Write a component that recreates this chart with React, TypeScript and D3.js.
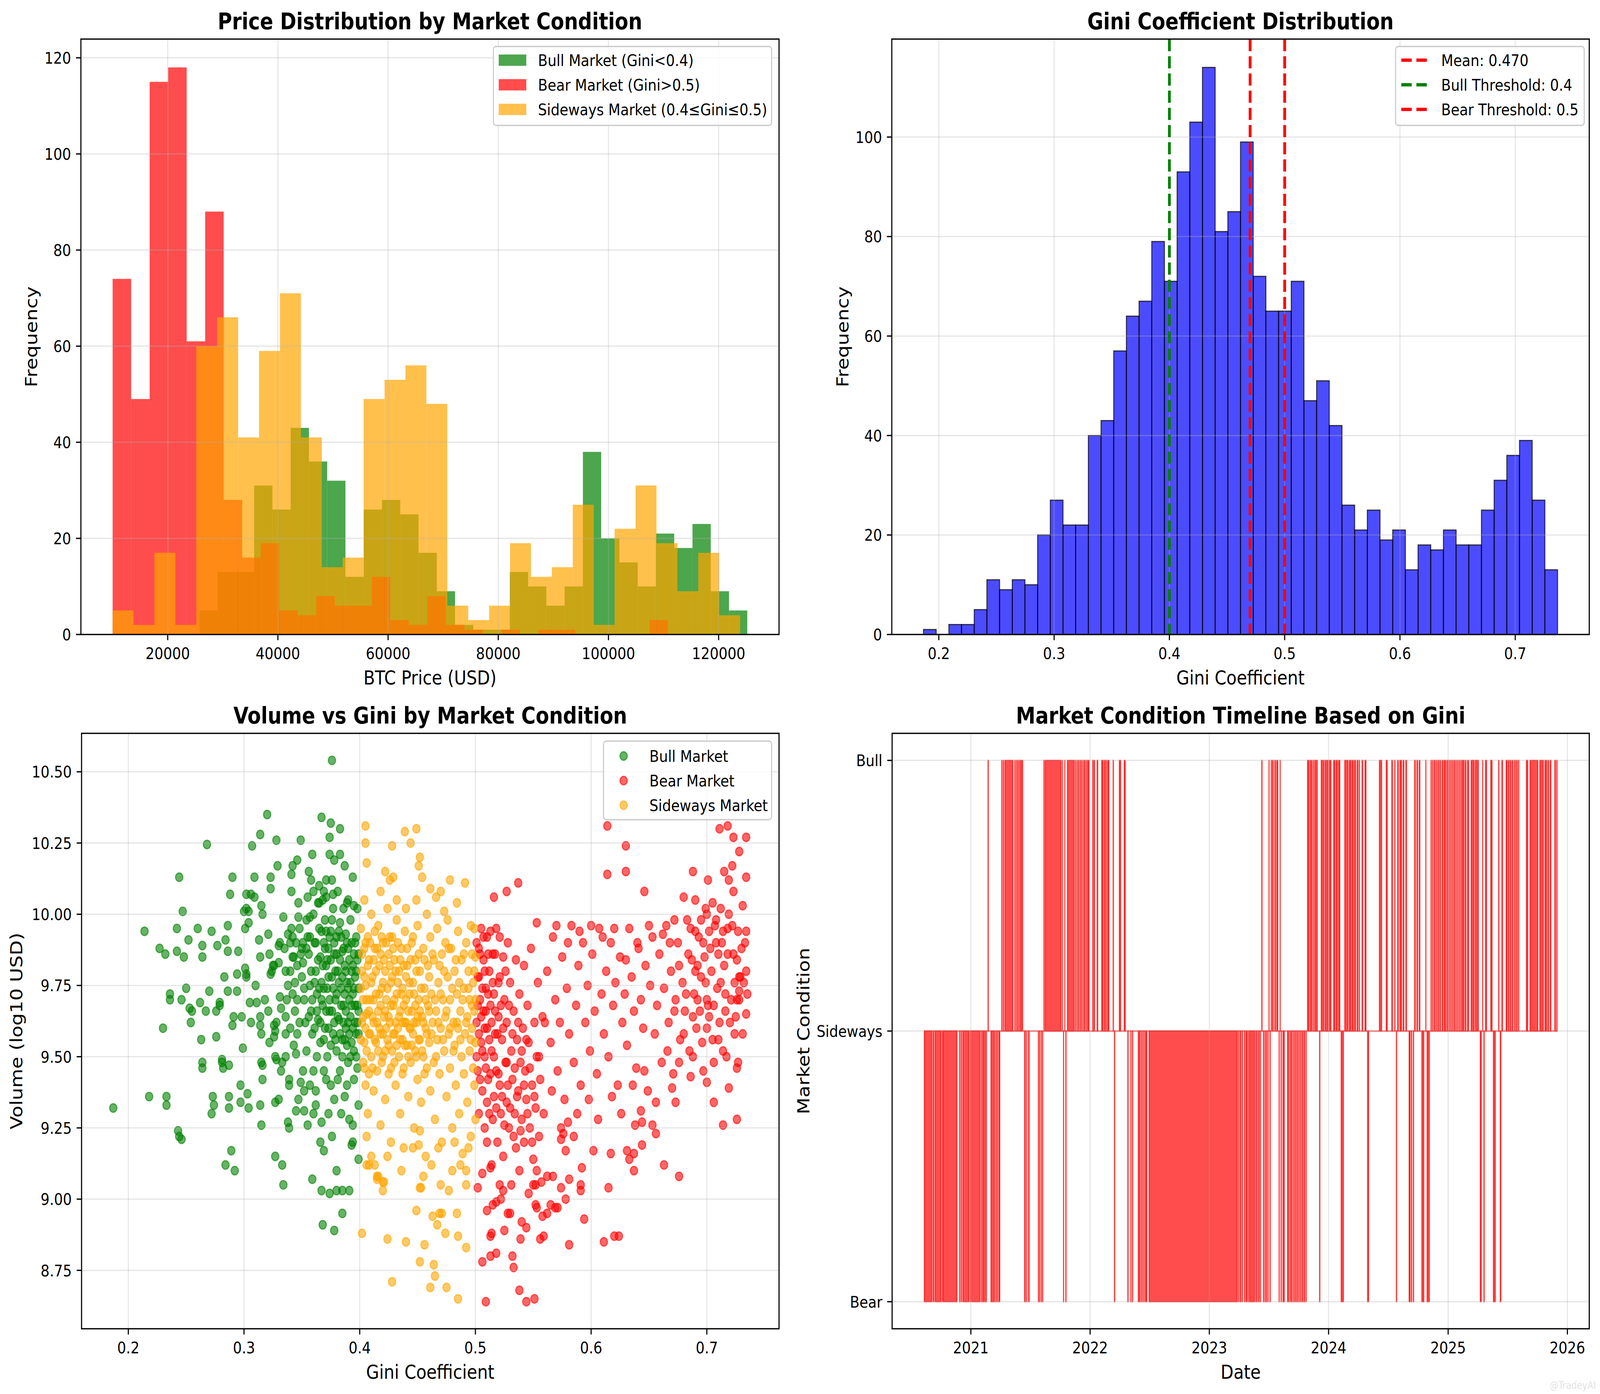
import React from "react";
import * as d3 from "d3";

// ---------- top-left: BTC price histograms, 30 bins per market type ----------
const bullPriceRange: [number, number] = [25740, 125200];
const bullPriceCounts = [5, 13, 13, 31, 26, 43, 36, 32, 12, 26, 28, 25, 17, 9, 2, 1, 1, 13, 10, 6, 10, 38, 20, 15, 10, 21, 18, 23, 9, 5];
const bearPriceRange: [number, number] = [10000, 110800];
const bearPriceCounts = [74, 49, 115, 118, 61, 88, 28, 16, 19, 5, 4, 8, 6, 6, 12, 3, 2, 8, 2, 1, 0, 1, 0, 1, 1, 0, 0, 0, 0, 3];
const sidePriceRange: [number, number] = [10000, 123900];
const sidePriceCounts = [5, 2, 17, 2, 60, 66, 41, 59, 71, 41, 14, 16, 49, 53, 56, 48, 6, 3, 6, 19, 12, 14, 27, 2, 22, 31, 19, 9, 17, 4];
const priceTicks = [20000, 40000, 60000, 80000, 100000, 120000];
const freqTicksTL = [0, 20, 40, 60, 80, 100, 120];

// ---------- top-right: Gini histogram, 50 bins ----------
const giniRange: [number, number] = [0.1867, 0.7367];
const giniCounts = [1, 0, 2, 2, 5, 11, 9, 11, 10, 20, 27, 22, 22, 40, 43, 57, 64, 67, 79, 71, 93, 103, 114, 81, 85, 99, 72, 65, 65, 71, 47, 51, 42, 26, 21, 25, 19, 21, 13, 18, 17, 21, 18, 18, 25, 31, 36, 39, 27, 13];
const giniMean = 0.47;
const bullThreshold = 0.4;
const bearThreshold = 0.5;
const giniTicks = [0.2, 0.3, 0.4, 0.5, 0.6, 0.7];
const freqTicksTR = [0, 20, 40, 60, 80, 100];

// ---------- bottom-left: volume vs gini ----------
const bullPoints: [number, number][] = [
  [0.187, 9.32], [0.214, 9.94], [0.218, 9.36], [0.227, 9.88], [0.232, 9.86], [0.23, 9.6], [0.233, 9.36], [0.233, 9.33], [0.236, 9.72], [0.236, 9.7],
  [0.242, 9.95], [0.242, 9.87], [0.243, 9.24], [0.244, 9.22], [0.246, 9.21], [0.244, 10.13], [0.247, 10.01], [0.246, 9.7], [0.248, 9.85], [0.25, 9.74],
  [0.252, 9.91], [0.253, 9.67], [0.255, 9.66], [0.254, 9.62], [0.26, 9.95], [0.262, 9.69], [0.263, 9.56], [0.264, 9.89], [0.264, 9.85], [0.264, 9.48],
  [0.264, 9.46], [0.267, 9.66], [0.268, 10.245], [0.27, 9.73], [0.272, 9.94], [0.272, 9.3], [0.274, 9.33], [0.273, 9.36], [0.276, 9.66], [0.276, 9.57],
  [0.277, 9.89], [0.279, 9.68], [0.279, 9.69], [0.281, 9.49], [0.281, 9.48], [0.282, 9.46], [0.283, 9.78], [0.284, 9.91], [0.284, 9.12], [0.286, 9.73],
  [0.286, 9.87], [0.286, 9.96], [0.288, 10.07], [0.287, 9.36], [0.287, 9.32], [0.287, 9.47], [0.289, 9.17], [0.29, 10.13], [0.291, 9.64], [0.29, 9.61],
  [0.292, 9.1], [0.294, 9.79], [0.294, 9.73], [0.295, 9.87], [0.297, 9.4], [0.297, 9.34], [0.298, 9.64], [0.299, 9.53], [0.3, 10.01], [0.302, 10.02],
  [0.304, 10.01], [0.302, 10.07], [0.306, 10.07], [0.301, 9.81], [0.302, 9.79], [0.302, 9.78], [0.301, 9.95], [0.304, 9.97], [0.303, 9.37], [0.304, 9.32],
  [0.305, 9.69], [0.306, 9.62], [0.307, 10.24], [0.309, 10.13], [0.309, 10.06], [0.31, 9.75], [0.311, 9.69], [0.313, 9.91], [0.314, 9.85], [0.314, 10.28],
  [0.315, 10.03], [0.316, 10.0], [0.314, 9.64], [0.314, 9.61], [0.315, 9.58], [0.315, 9.48], [0.316, 9.47], [0.316, 9.42], [0.314, 9.33], [0.315, 9.26],
  [0.32, 10.35], [0.321, 9.93], [0.322, 9.86], [0.321, 9.66], [0.323, 10.09], [0.323, 10.13], [0.323, 9.79], [0.324, 9.8], [0.325, 9.82], [0.326, 9.61],
  [0.326, 9.57], [0.327, 9.59], [0.327, 9.5], [0.328, 9.49], [0.327, 9.15], [0.327, 9.34], [0.33, 9.35], [0.328, 10.26], [0.329, 10.17], [0.33, 9.89],
  [0.33, 9.83], [0.331, 9.71], [0.332, 9.67], [0.332, 9.45], [0.333, 9.12], [0.334, 9.05], [0.334, 9.99], [0.336, 9.8], [0.337, 9.7], [0.336, 9.64],
  [0.338, 9.27], [0.339, 9.25], [0.339, 9.42], [0.341, 10.08], [0.341, 10.14], [0.342, 10.17], [0.341, 9.95], [0.342, 9.92], [0.343, 9.54], [0.345, 9.51],
  [0.345, 9.31], [0.346, 10.19], [0.347, 9.99], [0.347, 10.04], [0.349, 10.26], [0.349, 9.86], [0.351, 9.9], [0.349, 9.41], [0.352, 9.38], [0.352, 9.31],
  [0.355, 9.26], [0.355, 10.06], [0.356, 10.15], [0.357, 9.99], [0.358, 10.12], [0.359, 10.21], [0.359, 9.07], [0.36, 9.3], [0.362, 9.38], [0.364, 10.04],
  [0.365, 10.04], [0.366, 9.2], [0.367, 9.27], [0.367, 9.03], [0.368, 8.91], [0.367, 10.34], [0.369, 10.08], [0.371, 10.12], [0.369, 9.17], [0.371, 9.42],
  [0.374, 10.27], [0.375, 10.32], [0.374, 9.02], [0.376, 10.54], [0.374, 10.21], [0.378, 10.19], [0.376, 9.22], [0.377, 10.07], [0.38, 9.03], [0.385, 9.03],
  [0.391, 9.03], [0.378, 8.89], [0.38, 9.1], [0.383, 10.3], [0.383, 10.21], [0.387, 10.17], [0.385, 8.95], [0.389, 10.04], [0.39, 10.05], [0.394, 10.13],
  [0.394, 9.26], [0.394, 9.2], [0.393, 9.19], [0.399, 9.14], [0.395, 10.03],
  [0.335, 9.88], [0.338, 9.93], [0.34, 9.8], [0.342, 9.72], [0.344, 9.66], [0.346, 9.58], [0.345, 9.9], [0.348, 9.95], [0.35, 9.78], [0.351, 9.83],
  [0.352, 9.7], [0.353, 9.62], [0.354, 9.52], [0.355, 9.92], [0.356, 9.86], [0.357, 9.75], [0.358, 9.66], [0.359, 9.58], [0.36, 10.0], [0.36, 9.45],
  [0.361, 9.9], [0.362, 9.8], [0.363, 9.72], [0.364, 9.63], [0.365, 9.95], [0.366, 9.85], [0.366, 9.55], [0.367, 9.76], [0.368, 10.05], [0.368, 9.68],
  [0.369, 9.9], [0.37, 9.6], [0.37, 9.98], [0.371, 9.82], [0.372, 9.74], [0.372, 9.5], [0.373, 9.88], [0.374, 9.66], [0.375, 9.94], [0.375, 9.4],
  [0.376, 9.78], [0.377, 10.02], [0.377, 9.58], [0.378, 9.86], [0.379, 9.7], [0.38, 9.92], [0.38, 9.52], [0.381, 9.8], [0.382, 9.63], [0.383, 9.97],
  [0.383, 9.45], [0.384, 9.74], [0.385, 9.87], [0.385, 9.56], [0.386, 9.68], [0.387, 9.82], [0.387, 9.36], [0.388, 9.93], [0.388, 9.6], [0.389, 9.76],
  [0.39, 9.48], [0.39, 9.88], [0.391, 9.7], [0.392, 9.64], [0.392, 9.98], [0.393, 9.8], [0.393, 9.55], [0.394, 9.72], [0.395, 9.86], [0.395, 9.42],
  [0.396, 9.62], [0.396, 9.78], [0.397, 9.92], [0.397, 9.5], [0.398, 9.68], [0.398, 9.84], [0.399, 9.58], [0.399, 9.74], [0.399, 9.33], [0.398, 10.02],
  [0.318, 9.7], [0.322, 9.55], [0.326, 9.82], [0.328, 9.62], [0.331, 9.9], [0.333, 9.48], [0.336, 9.58], [0.339, 9.4], [0.343, 9.85], [0.347, 9.35],
  [0.351, 9.45], [0.354, 9.98], [0.357, 9.4], [0.362, 9.33], [0.363, 9.5], [0.369, 9.45], [0.373, 9.3], [0.378, 9.35], [0.381, 9.42], [0.384, 9.3],
  [0.386, 10.02], [0.389, 9.4], [0.391, 9.28], [0.36, 10.08], [0.365, 10.1], [0.371, 10.06], [0.376, 10.12], [0.381, 10.08],
  [0.352, 9.74], [0.354, 9.88], [0.356, 9.64], [0.357, 9.92], [0.358, 9.8], [0.359, 9.7], [0.361, 9.6], [0.361, 9.76], [0.362, 9.9], [0.363, 9.66],
  [0.364, 9.84], [0.365, 9.74], [0.366, 9.62], [0.367, 9.94], [0.367, 9.7], [0.368, 9.82], [0.369, 9.56], [0.369, 9.74], [0.37, 9.88], [0.371, 9.66],
  [0.371, 9.94], [0.372, 9.84], [0.373, 9.6], [0.373, 9.78], [0.374, 9.92], [0.374, 9.7], [0.375, 9.54], [0.375, 9.84], [0.376, 9.66], [0.376, 9.98],
  [0.377, 9.74], [0.378, 9.62], [0.378, 9.9], [0.379, 9.8], [0.379, 9.56], [0.38, 9.72], [0.38, 9.86], [0.381, 9.64], [0.382, 9.94], [0.382, 9.76],
  [0.383, 9.58], [0.383, 9.84], [0.384, 9.68], [0.384, 9.92], [0.385, 9.78], [0.385, 9.5], [0.386, 9.62], [0.386, 9.88], [0.387, 9.72], [0.387, 9.56],
  [0.388, 9.8], [0.388, 9.66], [0.389, 9.9], [0.389, 9.54], [0.39, 9.74], [0.39, 9.62], [0.391, 9.84], [0.391, 9.58], [0.392, 9.76], [0.392, 9.5],
  [0.393, 9.68], [0.393, 9.9], [0.394, 9.6], [0.394, 9.82], [0.395, 9.52], [0.395, 9.74], [0.396, 9.68], [0.396, 9.9], [0.397, 9.58], [0.397, 9.8],
  [0.398, 9.62], [0.398, 9.46], [0.399, 9.86], [0.399, 9.66], [0.34, 9.6], [0.344, 9.76], [0.346, 9.7], [0.348, 9.62], [0.35, 9.88], [0.346, 9.82],
  [0.342, 9.85], [0.338, 9.75], [0.336, 9.5], [0.34, 9.9],
];

const sidewaysPoints: [number, number][] = [
  [0.405, 10.31], [0.405, 10.25], [0.406, 10.18], [0.402, 8.88], [0.406, 9.12], [0.408, 9.12], [0.415, 9.08], [0.415, 9.07], [0.42, 9.06], [0.421, 9.06],
  [0.42, 9.03], [0.424, 8.86], [0.428, 8.71], [0.428, 10.24], [0.422, 10.15], [0.429, 10.13], [0.439, 10.29], [0.444, 10.25], [0.449, 10.3], [0.452, 10.2],
  [0.451, 10.17], [0.454, 10.13], [0.44, 8.85], [0.451, 9.19], [0.449, 8.96], [0.452, 8.78], [0.456, 8.84], [0.452, 9.04], [0.453, 9.04], [0.461, 8.69],
  [0.465, 8.73], [0.464, 8.77], [0.463, 8.94], [0.467, 8.91], [0.469, 8.95], [0.471, 8.95], [0.475, 8.69], [0.474, 8.88], [0.477, 9.03], [0.478, 10.12],
  [0.485, 8.65], [0.484, 8.95], [0.491, 10.11], [0.492, 8.83], [0.485, 8.87], [0.492, 9.1], [0.47, 10.08], [0.473, 10.01], [0.461, 10.09],
  [0.401, 9.95], [0.402, 9.8], [0.402, 9.62], [0.403, 9.48], [0.403, 9.7], [0.404, 9.88], [0.404, 9.55], [0.405, 9.4], [0.405, 9.75], [0.406, 9.65],
  [0.407, 9.92], [0.407, 9.3], [0.408, 9.58], [0.408, 9.84], [0.409, 9.7], [0.41, 9.5], [0.41, 10.0], [0.411, 9.78], [0.412, 9.62], [0.412, 9.38],
  [0.413, 9.88], [0.414, 9.55], [0.414, 9.72], [0.415, 9.45], [0.416, 9.96], [0.416, 9.66], [0.417, 9.82], [0.418, 9.58], [0.418, 9.26], [0.419, 9.74],
  [0.42, 9.9], [0.42, 9.5], [0.421, 9.64], [0.422, 9.8], [0.422, 9.35], [0.423, 9.7], [0.424, 9.56], [0.424, 10.02], [0.425, 9.86], [0.425, 9.44],
  [0.426, 9.62], [0.427, 9.76], [0.427, 9.2], [0.428, 9.52], [0.428, 9.92], [0.429, 9.68], [0.43, 9.58], [0.43, 9.84], [0.431, 9.4], [0.432, 9.72],
  [0.432, 9.98], [0.433, 9.6], [0.434, 9.5], [0.434, 9.8], [0.435, 9.66], [0.435, 9.3], [0.436, 9.88], [0.437, 9.56], [0.437, 9.74], [0.438, 9.46],
  [0.439, 9.62], [0.439, 9.94], [0.44, 9.7], [0.441, 9.54], [0.441, 9.82], [0.442, 9.36], [0.443, 9.6], [0.443, 9.76], [0.444, 9.48], [0.445, 9.9],
  [0.445, 9.66], [0.446, 9.58], [0.447, 9.25], [0.447, 9.72], [0.448, 9.52], [0.448, 9.84], [0.449, 9.62], [0.45, 9.42], [0.45, 9.96], [0.451, 9.7],
  [0.452, 9.56], [0.452, 9.8], [0.453, 9.34], [0.454, 9.64], [0.455, 9.5], [0.455, 9.88], [0.456, 9.74], [0.457, 9.6], [0.457, 9.15], [0.458, 9.46],
  [0.459, 9.82], [0.459, 9.68], [0.46, 9.55], [0.461, 9.92], [0.461, 9.38], [0.462, 9.72], [0.463, 9.62], [0.464, 9.48], [0.464, 9.84], [0.465, 9.28],
  [0.466, 9.66], [0.467, 9.56], [0.467, 9.95], [0.468, 9.76], [0.469, 9.44], [0.47, 9.6], [0.471, 9.86], [0.471, 9.2], [0.472, 9.7], [0.473, 9.52],
  [0.474, 9.64], [0.474, 9.9], [0.475, 9.36], [0.476, 9.78], [0.477, 9.58], [0.478, 9.46], [0.478, 9.7], [0.479, 9.88], [0.48, 9.25], [0.481, 9.62],
  [0.482, 9.54], [0.482, 9.8], [0.483, 9.4], [0.484, 9.72], [0.485, 9.94], [0.485, 9.6], [0.486, 9.3], [0.487, 9.66], [0.488, 9.5], [0.488, 9.84],
  [0.489, 9.16], [0.49, 9.74], [0.49, 9.44], [0.491, 9.58], [0.492, 9.9], [0.493, 9.64], [0.493, 9.34], [0.494, 9.8], [0.495, 9.52], [0.495, 9.7],
  [0.496, 9.22], [0.497, 9.86], [0.497, 9.6], [0.498, 9.46], [0.498, 9.76], [0.499, 9.66], [0.499, 9.95], [0.499, 9.4], [0.5, 9.55],
  [0.404, 10.05], [0.41, 9.15], [0.413, 9.12], [0.418, 10.08], [0.426, 10.12], [0.432, 10.05], [0.436, 9.1], [0.44, 10.02], [0.446, 9.18], [0.449, 10.05],
  [0.455, 9.08], [0.458, 10.0], [0.462, 9.12], [0.466, 10.06], [0.47, 9.05], [0.476, 9.98], [0.48, 9.1], [0.484, 10.04], [0.487, 9.12], [0.492, 9.05],
  [0.496, 9.96], [0.406, 9.22], [0.416, 9.08], [0.424, 9.15], [0.438, 9.18], [0.452, 9.24], [0.468, 9.18], [0.482, 9.2], [0.494, 9.18], [0.5, 9.28], [0.5, 9.85],
  [0.401, 9.74], [0.401, 9.56], [0.402, 9.86], [0.403, 9.64], [0.404, 9.78], [0.404, 9.46], [0.405, 9.6], [0.405, 9.9], [0.406, 9.7], [0.406, 9.52],
  [0.407, 9.82], [0.408, 9.66], [0.408, 9.44], [0.409, 9.9], [0.409, 9.58], [0.41, 9.76], [0.411, 9.64], [0.411, 9.46], [0.412, 9.84], [0.412, 9.7],
  [0.413, 9.56], [0.413, 9.94], [0.414, 9.8], [0.415, 9.62], [0.415, 9.88], [0.416, 9.52], [0.417, 9.72], [0.417, 9.6], [0.418, 9.86], [0.418, 9.68],
  [0.419, 9.48], [0.419, 9.92], [0.42, 9.58], [0.42, 9.76], [0.421, 9.84], [0.422, 9.66], [0.422, 9.52], [0.423, 9.9], [0.423, 9.6], [0.424, 9.74],
  [0.425, 9.64], [0.425, 9.54], [0.426, 9.82], [0.426, 9.92], [0.427, 9.68], [0.427, 9.46], [0.428, 9.78], [0.429, 9.58], [0.429, 9.88], [0.43, 9.7],
  [0.43, 9.48], [0.431, 9.62], [0.431, 9.8], [0.432, 9.54], [0.433, 9.76], [0.433, 9.9], [0.434, 9.64], [0.435, 9.56], [0.435, 9.84], [0.436, 9.72],
  [0.437, 9.62], [0.437, 9.44], [0.438, 9.82], [0.438, 9.68], [0.439, 9.54], [0.44, 9.78], [0.44, 9.62], [0.441, 9.88], [0.442, 9.66], [0.442, 9.5],
  [0.443, 9.72], [0.444, 9.84], [0.444, 9.6], [0.445, 9.54], [0.446, 9.76], [0.446, 9.92], [0.447, 9.62], [0.448, 9.68], [0.449, 9.8], [0.449, 9.5],
  [0.45, 9.64], [0.451, 9.86], [0.451, 9.56], [0.452, 9.66], [0.453, 9.74], [0.454, 9.52], [0.455, 9.62], [0.456, 9.84], [0.456, 9.44], [0.457, 9.7],
  [0.458, 9.58], [0.46, 9.66], [0.46, 9.78], [0.462, 9.58], [0.463, 9.86], [0.465, 9.7], [0.466, 9.5], [0.468, 9.62], [0.469, 9.82], [0.47, 9.72],
  [0.472, 9.56], [0.473, 9.8], [0.475, 9.66], [0.477, 9.88], [0.478, 9.6], [0.48, 9.74], [0.481, 9.52], [0.483, 9.84], [0.484, 9.62], [0.486, 9.76],
  [0.487, 9.56], [0.489, 9.7], [0.49, 9.86], [0.492, 9.62], [0.494, 9.74], [0.496, 9.56], [0.497, 9.68], [0.499, 9.8], [0.5, 9.7],
];

const bearPoints: [number, number][] = [
  [0.506, 8.78], [0.509, 8.64], [0.513, 8.8], [0.518, 8.81], [0.502, 9.04], [0.513, 8.87], [0.514, 8.88], [0.525, 8.89], [0.532, 8.8], [0.533, 8.76],
  [0.538, 8.68], [0.544, 8.64], [0.551, 8.65], [0.539, 8.86], [0.53, 8.95], [0.54, 8.92], [0.544, 8.9], [0.556, 8.86], [0.559, 8.87], [0.581, 8.84],
  [0.611, 8.85], [0.62, 8.87], [0.624, 8.87], [0.615, 9.04], [0.676, 9.08], [0.663, 9.12], [0.594, 8.93], [0.516, 10.06], [0.527, 10.08], [0.537, 10.11],
  [0.553, 9.97], [0.614, 10.31], [0.614, 10.14], [0.63, 10.24], [0.63, 10.15], [0.646, 10.08], [0.688, 10.15], [0.701, 10.12], [0.711, 10.3], [0.718, 10.31],
  [0.723, 10.27], [0.728, 10.22], [0.734, 10.27], [0.734, 10.13], [0.722, 10.17], [0.715, 10.15], [0.719, 10.12], [0.723, 10.08], [0.731, 10.03], [0.726, 9.28],
  [0.714, 9.26], [0.719, 9.39], [0.706, 9.34], [0.727, 9.48], [0.726, 9.46], [0.734, 9.94], [0.728, 9.78], [0.734, 9.65], [0.728, 9.73], [0.7, 9.41],
  [0.686, 9.43], [0.673, 9.34], [0.67, 9.39], [0.653, 9.26], [0.644, 9.27], [0.643, 9.31], [0.638, 9.26], [0.656, 9.23], [0.644, 9.19], [0.637, 9.16],
  [0.631, 9.17], [0.633, 9.14], [0.637, 9.1], [0.617, 9.16], [0.602, 9.17], [0.592, 9.11], [0.591, 9.05], [0.591, 9.03], [0.578, 9.0], [0.581, 9.07],
  [0.574, 9.04], [0.578, 9.17], [0.574, 9.21], [0.58, 9.27], [0.576, 9.23], [0.585, 9.22], [0.562, 9.08], [0.567, 9.08], [0.565, 8.98], [0.569, 8.97],
  [0.571, 8.97], [0.562, 8.95], [0.558, 8.94], [0.552, 8.98], [0.553, 8.97], [0.552, 9.05], [0.55, 9.05], [0.528, 8.95], [0.524, 9.03], [0.521, 9.05],
  [0.522, 9.0], [0.515, 8.98], [0.518, 8.99], [0.51, 8.96], [0.506, 9.09], [0.513, 9.11], [0.51, 9.2],
  [0.501, 9.62], [0.502, 9.78], [0.502, 9.45], [0.503, 9.88], [0.503, 9.3], [0.504, 9.7], [0.505, 9.55], [0.505, 9.95], [0.506, 9.38], [0.507, 9.66],
  [0.507, 9.84], [0.508, 9.5], [0.508, 9.25], [0.509, 9.74], [0.51, 9.6], [0.51, 9.92], [0.511, 9.42], [0.512, 9.8], [0.512, 9.3], [0.513, 9.68],
  [0.514, 9.52], [0.514, 9.12], [0.515, 9.86], [0.516, 9.36], [0.516, 9.72], [0.517, 9.58], [0.518, 9.45], [0.518, 9.95], [0.519, 9.2], [0.52, 9.64],
  [0.521, 9.78], [0.521, 9.4], [0.522, 9.3], [0.523, 9.56], [0.524, 9.85], [0.524, 9.15], [0.525, 9.7], [0.526, 9.48], [0.527, 9.34], [0.527, 9.62],
  [0.528, 9.9], [0.529, 9.25], [0.53, 9.76], [0.531, 9.52], [0.531, 9.05], [0.532, 9.42], [0.533, 9.66], [0.534, 9.3], [0.535, 9.84], [0.535, 9.18],
  [0.536, 9.56], [0.537, 9.38], [0.538, 9.72], [0.538, 9.1], [0.539, 9.48], [0.54, 9.28], [0.541, 9.6], [0.542, 9.82], [0.542, 9.2], [0.543, 9.45],
  [0.544, 9.35], [0.545, 9.68], [0.546, 9.55], [0.546, 9.02], [0.547, 9.25], [0.548, 9.88], [0.549, 9.4], [0.55, 9.14], [0.551, 9.62], [0.552, 9.32],
  [0.553, 9.5], [0.554, 9.76], [0.555, 9.22], [0.556, 9.42], [0.557, 9.06], [0.558, 9.64], [0.559, 9.3],
  [0.562, 9.8], [0.565, 9.55], [0.567, 9.92], [0.569, 9.7], [0.571, 9.45], [0.573, 9.62], [0.575, 9.85], [0.577, 9.35], [0.579, 9.74], [0.581, 9.58],
  [0.583, 9.96], [0.585, 9.48], [0.587, 9.68], [0.589, 9.82], [0.591, 9.4], [0.593, 9.9], [0.595, 9.62], [0.597, 9.75], [0.599, 9.52], [0.601, 9.86],
  [0.603, 9.66], [0.605, 9.44], [0.607, 9.95], [0.609, 9.72], [0.611, 9.58], [0.613, 9.8], [0.615, 9.5], [0.617, 9.9], [0.619, 9.68], [0.621, 9.76],
  [0.623, 9.4], [0.625, 9.85], [0.627, 9.62], [0.629, 9.72], [0.631, 9.54], [0.633, 9.95], [0.635, 9.78], [0.637, 9.66], [0.639, 9.46], [0.641, 9.88],
  [0.643, 9.7], [0.645, 9.6], [0.647, 9.82], [0.649, 9.38], [0.651, 9.75], [0.653, 9.92], [0.655, 9.58], [0.657, 9.68], [0.659, 9.86], [0.661, 9.48],
  [0.663, 9.74], [0.665, 9.96], [0.667, 9.62], [0.669, 9.8], [0.671, 9.44], [0.673, 9.7], [0.675, 9.9], [0.677, 9.56], [0.679, 9.76], [0.681, 9.66],
  [0.683, 9.98], [0.685, 9.52], [0.687, 9.84], [0.689, 9.72], [0.691, 9.6], [0.693, 9.92], [0.695, 9.78], [0.697, 9.45], [0.699, 10.02], [0.701, 9.68],
  [0.703, 9.88], [0.705, 9.56], [0.707, 9.96], [0.709, 9.74], [0.711, 9.62], [0.713, 9.9], [0.715, 9.82], [0.717, 9.5], [0.719, 10.0], [0.721, 9.7],
  [0.723, 9.86], [0.725, 9.64], [0.727, 9.94], [0.729, 9.78], [0.731, 9.58], [0.733, 9.9], [0.735, 9.72],
  [0.69, 10.05], [0.7, 10.0], [0.705, 10.04], [0.712, 10.02], [0.68, 10.06], [0.695, 9.98], [0.708, 9.9], [0.698, 9.85], [0.718, 9.95], [0.726, 9.84],
  [0.686, 9.95], [0.672, 9.98], [0.662, 9.93], [0.65, 9.96], [0.64, 9.9], [0.63, 9.84], [0.62, 9.95], [0.61, 9.92], [0.6, 9.96], [0.59, 9.94],
  [0.58, 9.9], [0.57, 9.96], [0.56, 9.62], [0.566, 9.38], [0.574, 9.25], [0.588, 9.3], [0.598, 9.35], [0.606, 9.28], [0.618, 9.36], [0.626, 9.3],
  [0.636, 9.4], [0.646, 9.45], [0.656, 9.34], [0.666, 9.52], [0.676, 9.48], [0.688, 9.5], [0.696, 9.55], [0.706, 9.48], [0.714, 9.52], [0.724, 9.58],
  [0.702, 9.64], [0.692, 9.7], [0.682, 9.72], [0.716, 9.66], [0.728, 9.7], [0.734, 9.8],
  [0.501, 9.9], [0.501, 9.5], [0.502, 9.68], [0.503, 9.58], [0.503, 9.78], [0.504, 9.42], [0.504, 9.86], [0.505, 9.64], [0.506, 9.74], [0.506, 9.52],
  [0.507, 9.92], [0.508, 9.6], [0.508, 9.8], [0.509, 9.46], [0.509, 9.66], [0.51, 9.34], [0.511, 9.72], [0.511, 9.86], [0.512, 9.56], [0.513, 9.44],
  [0.513, 9.94], [0.514, 9.62], [0.515, 9.28], [0.515, 9.76], [0.516, 9.5], [0.517, 9.86], [0.517, 9.66], [0.518, 9.32], [0.519, 9.58], [0.52, 9.76],
  [0.52, 9.44], [0.521, 9.92], [0.522, 9.68], [0.523, 9.36], [0.524, 9.6], [0.525, 9.26], [0.526, 9.8], [0.527, 9.48], [0.528, 9.4], [0.529, 9.68],
  [0.53, 9.32], [0.532, 9.58], [0.533, 9.22], [0.534, 9.46], [0.536, 9.36], [0.537, 9.62], [0.539, 9.24], [0.54, 9.52], [0.542, 9.4], [0.544, 9.56],
  [0.545, 9.3], [0.547, 9.46], [0.549, 9.2], [0.551, 9.36], [0.553, 9.1], [0.555, 9.5],
  [0.668, 9.9], [0.672, 9.66], [0.676, 9.82], [0.68, 9.58], [0.684, 9.86], [0.688, 9.64], [0.69, 9.94], [0.692, 9.82], [0.694, 9.66], [0.697, 9.9],
  [0.699, 9.76], [0.7, 9.6], [0.702, 9.94], [0.704, 9.8], [0.706, 9.68], [0.708, 9.98], [0.71, 9.86], [0.712, 9.76], [0.714, 9.94], [0.716, 9.72],
  [0.718, 9.86], [0.72, 9.62], [0.722, 9.96], [0.724, 9.76], [0.726, 9.7], [0.73, 9.88], [0.732, 9.76], [0.71, 9.56], [0.7, 9.7], [0.69, 9.8],
];
const volumeTicks = [8.75, 9.0, 9.25, 9.5, 9.75, 10.0, 10.25, 10.5];

// ---------- bottom-right: daily market condition, runs away from "Sideways" ----------
// day numbers counted from timelineStart; every day not listed is Sideways
const timelineStart = "2020-08-10";
const timelineDays = 1940;
const bullRuns: [number, number][] = [
  [195, 198], [237, 240], [242, 245], [247, 273], [277, 280], [282, 284], [286, 288], [290, 292], [294, 303],
  [366, 368], [370, 420], [422, 424], [430, 431], [438, 461], [463, 466], [468, 470], [472, 475], [477, 479], [481, 484],
  [486, 488], [490, 494], [496, 498], [500, 506], [515, 517], [519, 523], [529, 533], [543, 549], [551, 552], [554, 556],
  [558, 560], [562, 567], [578, 581], [597, 603], [612, 617],
  [1033, 1036], [1055, 1057], [1062, 1064], [1066, 1070], [1073, 1077], [1079, 1084], [1089, 1091],
  [1173, 1180], [1182, 1188], [1190, 1193], [1195, 1205], [1215, 1225], [1227, 1238], [1240, 1247], [1253, 1259], [1261, 1266],
  [1268, 1274], [1287, 1299], [1301, 1308], [1310, 1315], [1317, 1322], [1325, 1329], [1331, 1334], [1340, 1344], [1349, 1354],
  [1393, 1402], [1414, 1419], [1431, 1435], [1440, 1443], [1449, 1453], [1456, 1463], [1466, 1470], [1474, 1478], [1501, 1505],
  [1508, 1512], [1515, 1519], [1535, 1537], [1551, 1554], [1556, 1559], [1561, 1565], [1567, 1570], [1572, 1576], [1578, 1582],
  [1585, 1589], [1591, 1598], [1600, 1604], [1606, 1609], [1611, 1614], [1616, 1619], [1621, 1625], [1627, 1630], [1632, 1635],
  [1637, 1640], [1642, 1644], [1646, 1654], [1656, 1660], [1663, 1668], [1674, 1685], [1687, 1698], [1709, 1711], [1718, 1723],
  [1734, 1740], [1758, 1761], [1768, 1772], [1781, 1786], [1788, 1792], [1794, 1798], [1800, 1804], [1807, 1811], [1813, 1817],
  [1819, 1822], [1843, 1849], [1854, 1880], [1884, 1897], [1900, 1907], [1909, 1913], [1916, 1920], [1930, 1934], [1936, 1939],
];
const bearRuns: [number, number][] = [
  [0, 25], [27, 31], [33, 53], [55, 56], [58, 102], [108, 111], [113, 116], [118, 139], [141, 172], [174, 176], [178, 179],
  [181, 182], [184, 186], [188, 192], [204, 217], [219, 221], [223, 226], [228, 233], [307, 311], [313, 315], [319, 323],
  [349, 351], [353, 354], [358, 360], [362, 364], [426, 428], [433, 436], [582, 585], [623, 626], [632, 634], [637, 640],
  [655, 662], [664, 667], [669, 672], [674, 676], [678, 683], [688, 960], [962, 965], [967, 971], [973, 976], [980, 983],
  [985, 990], [992, 994], [996, 1013], [1015, 1019], [1021, 1023], [1025, 1027], [1029, 1031], [1038, 1041], [1043, 1045],
  [1047, 1050], [1052, 1054], [1058, 1061], [1086, 1088], [1092, 1095], [1098, 1104], [1112, 1117], [1119, 1121], [1123, 1127],
  [1129, 1132], [1134, 1138], [1140, 1144], [1146, 1149], [1151, 1154], [1156, 1160], [1162, 1166], [1168, 1171], [1210, 1213],
  [1276, 1285], [1357, 1362], [1445, 1448], [1484, 1489], [1491, 1494], [1497, 1500], [1523, 1531], [1539, 1548], [1702, 1707],
  [1713, 1716], [1742, 1750], [1763, 1767],
];
const conditionLabels = ["Bear", "Sideways", "Bull"];
const yearTicks = [2021, 2022, 2023, 2024, 2025, 2026];

// ---------- layout ----------
const W = 4767;
const H = 3568;
const FONT = "'DejaVu Sans', 'Liberation Sans', sans-serif";
const TICK = 41.7;
const LABEL = 50;
const TITLE = 58.3;
const LW = 3.3;

type Box = { x0: number; x1: number; y0: number; y1: number };
const tl: Box = { x0: 241, x1: 2321, y0: 100, y1: 1624 };
const tr: Box = { x0: 2657, x1: 4735, y0: 100, y1: 1624 };
const bl: Box = { x0: 243, x1: 2321, y0: 1877, y1: 3401 };
const br: Box = { x0: 2658, x1: 4735, y0: 1877, y1: 3401 };

const GREEN = "#008000";
const RED = "#ff0000";
const ORANGE = "#ffa500";
const BLUE = "#0000ff";

function pad(lo: number, hi: number): [number, number] {
  const m = (hi - lo) * 0.05;
  return [lo - m, hi + m];
}

type Tick = { v: any; label: string };

function Panel(props: {
  box: Box; x: (v: any) => number; y: (v: any) => number; xt: Tick[]; yt: Tick[];
  title: string; xLabel: string; yLabel: string; yLabelX: number;
  data: React.ReactNode; over?: React.ReactNode; legend?: React.ReactNode;
}) {
  const { box, x, y, xt, yt } = props;
  const cx = (box.x0 + box.x1) / 2;
  const cy = (box.y0 + box.y1) / 2;
  return (
    <g>
      {props.data}
      <g stroke="#b0b0b0" strokeOpacity={0.3} strokeWidth={LW}>
        {xt.map((t, i) => <line key={"gx" + i} x1={x(t.v)} x2={x(t.v)} y1={box.y0} y2={box.y1} />)}
        {yt.map((t, i) => <line key={"gy" + i} x1={box.x0} x2={box.x1} y1={y(t.v)} y2={y(t.v)} />)}
      </g>
      {props.over}
      <rect x={box.x0} y={box.y0} width={box.x1 - box.x0} height={box.y1 - box.y0} fill="none" stroke="black" strokeWidth={LW} />
      <g stroke="black" strokeWidth={LW}>
        {xt.map((t, i) => <line key={"tx" + i} x1={x(t.v)} x2={x(t.v)} y1={box.y1} y2={box.y1 + 14.6} />)}
        {yt.map((t, i) => <line key={"ty" + i} x1={box.x0 - 14.6} x2={box.x0} y1={y(t.v)} y2={y(t.v)} />)}
      </g>
      <g fontFamily={FONT} fontSize={TICK} fill="black">
        {xt.map((t, i) => <text key={"lx" + i} x={x(t.v)} y={box.y1 + 63} textAnchor="middle">{t.label}</text>)}
        {yt.map((t, i) => <text key={"ly" + i} x={box.x0 - 29} y={y(t.v) + 15} textAnchor="end">{t.label}</text>)}
      </g>
      <text x={cx} y={box.y0 - 25} textAnchor="middle" fontFamily={FONT} fontSize={TITLE} fontWeight="bold">{props.title}</text>
      <text x={cx} y={box.y1 + 128} textAnchor="middle" fontFamily={FONT} fontSize={LABEL}>{props.xLabel}</text>
      <text transform={`translate(${props.yLabelX},${cy}) rotate(-90)`} textAnchor="middle" fontFamily={FONT} fontSize={LABEL}>{props.yLabel}</text>
      {props.legend}
    </g>
  );
}

function LegendBox(props: { x0: number; x1: number; y0: number; y1: number; children: React.ReactNode }) {
  return (
    <g>
      <rect x={props.x0} y={props.y0} width={props.x1 - props.x0} height={props.y1 - props.y0} rx={8} fill="white" fillOpacity={0.8} stroke="#cccccc" strokeWidth={LW} />
      {props.children}
    </g>
  );
}

function histBars(counts: number[], range: [number, number], x: d3.ScaleLinear<number, number>, y: d3.ScaleLinear<number, number>, color: string, edge?: boolean) {
  const w = (range[1] - range[0]) / counts.length;
  return counts.map((c, i) => {
    if (c === 0) return null;
    const xa = x(range[0] + i * w);
    const xb = x(range[0] + (i + 1) * w);
    return (
      <rect key={color + i} x={xa} y={y(c)} width={xb - xa} height={y(0) - y(c)} fill={color} fillOpacity={0.7}
        stroke={edge ? "black" : "none"} strokeOpacity={0.7} strokeWidth={edge ? 3 : 0} />
    );
  });
}

function PriceChart() {
  const x = d3.scaleLinear().domain(pad(10000, 125200)).range([tl.x0, tl.x1]);
  const maxC = d3.max([...bullPriceCounts, ...bearPriceCounts, ...sidePriceCounts]) as number;
  const y = d3.scaleLinear().domain([0, maxC * 1.05]).range([tl.y1, tl.y0]);
  const rows = [
    { label: "Bull Market (Gini<0.4)", color: GREEN },
    { label: "Bear Market (Gini>0.5)", color: RED },
    { label: "Sideways Market (0.4≤Gini≤0.5)", color: ORANGE },
  ];
  return (
    <Panel box={tl} x={x} y={y}
      xt={priceTicks.map(v => ({ v, label: String(v) }))}
      yt={freqTicksTL.map(v => ({ v, label: String(v) }))}
      title="Price Distribution by Market Condition" xLabel="BTC Price (USD)" yLabel="Frequency" yLabelX={111}
      data={<g>
        {histBars(bullPriceCounts, bullPriceRange, x, y, GREEN)}
        {histBars(bearPriceCounts, bearPriceRange, x, y, RED)}
        {histBars(sidePriceCounts, sidePriceRange, x, y, ORANGE)}
      </g>}
      legend={<LegendBox x0={1470} x1={2299} y0={119} y1={321}>
        {rows.map((r, i) => (
          <g key={i}>
            <rect x={1486} y={154 + i * 63 - 14.5} width={82} height={29} fill={r.color} fillOpacity={0.7} />
            <text x={1603} y={154 + i * 63 + 15} fontFamily={FONT} fontSize={TICK}>{r.label}</text>
          </g>
        ))}
      </LegendBox>}
    />
  );
}

function GiniChart() {
  const x = d3.scaleLinear().domain(pad(giniRange[0], giniRange[1])).range([tr.x0, tr.x1]);
  const y = d3.scaleLinear().domain([0, (d3.max(giniCounts) as number) * 1.05]).range([tr.y1, tr.y0]);
  const vlines = [
    { v: giniMean, color: RED, label: `Mean: ${giniMean.toFixed(3)}` },
    { v: bullThreshold, color: GREEN, label: `Bull Threshold: ${bullThreshold}` },
    { v: bearThreshold, color: RED, label: `Bear Threshold: ${bearThreshold}` },
  ];
  return (
    <Panel box={tr} x={x} y={y}
      xt={giniTicks.map(v => ({ v, label: v.toFixed(1) }))}
      yt={freqTicksTR.map(v => ({ v, label: String(v) }))}
      title="Gini Coefficient Distribution" xLabel="Gini Coefficient" yLabel="Frequency" yLabelX={2528}
      data={<g>{histBars(giniCounts, giniRange, x, y, BLUE, true)}</g>}
      over={<g>
        {vlines.map((l, i) => (
          <line key={i} x1={x(l.v)} x2={x(l.v)} y1={tr.y0} y2={tr.y1} stroke={l.color} strokeWidth={8.3} strokeDasharray="31 13" />
        ))}
      </g>}
      legend={<LegendBox x0={4158} x1={4720} y0={119} y1={321}>
        {vlines.map((l, i) => (
          <g key={i}>
            <line x1={4175} x2={4252} y1={154 + i * 63} y2={154 + i * 63} stroke={l.color} strokeWidth={8.3} strokeDasharray="31 14" />
            <text x={4294} y={154 + i * 63 + 15} fontFamily={FONT} fontSize={TICK}>{l.label}</text>
          </g>
        ))}
      </LegendBox>}
    />
  );
}

function VolumeChart() {
  const all = [...bullPoints, ...sidewaysPoints, ...bearPoints];
  const x = d3.scaleLinear().domain(pad(d3.min(all, d => d[0]) as number, d3.max(all, d => d[0]) as number)).range([bl.x0, bl.x1]);
  const y = d3.scaleLinear().domain(pad(d3.min(all, d => d[1]) as number, d3.max(all, d => d[1]) as number)).range([bl.y1, bl.y0]);
  const groups = [
    { pts: bullPoints, color: GREEN, label: "Bull Market" },
    { pts: bearPoints, color: RED, label: "Bear Market" },
    { pts: sidewaysPoints, color: ORANGE, label: "Sideways Market" },
  ];
  return (
    <Panel box={bl} x={x} y={y}
      xt={giniTicks.map(v => ({ v, label: v.toFixed(1) }))}
      yt={volumeTicks.map(v => ({ v, label: v.toFixed(2) }))}
      title="Volume vs Gini by Market Condition" xLabel="Gini Coefficient" yLabel="Volume (log10 USD)" yLabelX={66}
      data={<g>
        {groups.map((g, gi) => (
          <g key={gi} fill={g.color} fillOpacity={0.6} stroke={g.color} strokeOpacity={0.6} strokeWidth={3}>
            {g.pts.map((p, i) => <circle key={i} cx={x(p[0])} cy={y(p[1])} r={11} />)}
          </g>
        ))}
      </g>}
      legend={<LegendBox x0={1798} x1={2299} y0={1897} y1={2098}>
        {groups.map((g, i) => (
          <g key={i}>
            <circle cx={1858} cy={1935 + i * 63} r={11} fill={g.color} fillOpacity={0.6} stroke={g.color} strokeOpacity={0.6} strokeWidth={3} />
            <text x={1935} y={1935 + i * 63 + 15} fontFamily={FONT} fontSize={TICK}>{g.label}</text>
          </g>
        ))}
      </LegendBox>}
    />
  );
}

function TimelineChart() {
  const start = d3.timeParse("%Y-%m-%d")(timelineStart) as Date;
  const day = (n: number) => d3.timeDay.offset(start, n);
  const marg = Math.round(timelineDays * 0.05);
  const x = d3.scaleTime().domain([day(-marg), day(timelineDays + marg)]).range([br.x0, br.x1]);
  const y = d3.scaleLinear().domain([-0.1, 2.1]).range([br.y1, br.y0]);
  const runRect = (r: [number, number], level: number, k: string) => {
    const xa = x(day(r[0])) + 1.5;
    const xb = Math.max(x(day(r[1] + 1)) - 1.5, xa + 0.5);
    const ya = Math.min(y(level), y(1));
    const yb = Math.max(y(level), y(1));
    return <rect key={k} x={xa} y={ya} width={xb - xa} height={yb - ya} />;
  };
  return (
    <Panel box={br} x={x} y={y}
      xt={yearTicks.map(v => ({ v: new Date(v, 0, 1), label: String(v) }))}
      yt={conditionLabels.map((l, i) => ({ v: i, label: l }))}
      title="Market Condition Timeline Based on Gini" xLabel="Date" yLabel="Market Condition" yLabelX={2412}
      data={<g fill={RED} fillOpacity={0.7} stroke={RED} strokeOpacity={0.7} strokeWidth={3}>
        {bullRuns.map((r, i) => runRect(r, 2, "u" + i))}
        {bearRuns.map((r, i) => runRect(r, 0, "d" + i))}
        <line x1={x(day(0))} x2={x(day(timelineDays))} y1={y(1)} y2={y(1)} fill="none" />
      </g>}
    />
  );
}

export default function App() {
  // the drawing is laid out in the reference's 4767x3568 frame and stretched to whatever viewport the page gets
  return (
    <svg viewBox={`0 0 ${W} ${H}`} preserveAspectRatio="none"
      style={{ position: "fixed", left: 0, top: 0, width: "100vw", height: "100vh", display: "block", background: "white" }}>
      <rect width={W} height={H} fill="white" />
      <PriceChart />
      <GiniChart />
      <VolumeChart />
      <TimelineChart />
      <text x={4755} y={3555} textAnchor="end" fontFamily={FONT} fontSize={26} fill="#e3e3e3">@TradeyAI</text>
    </svg>
  );
}
